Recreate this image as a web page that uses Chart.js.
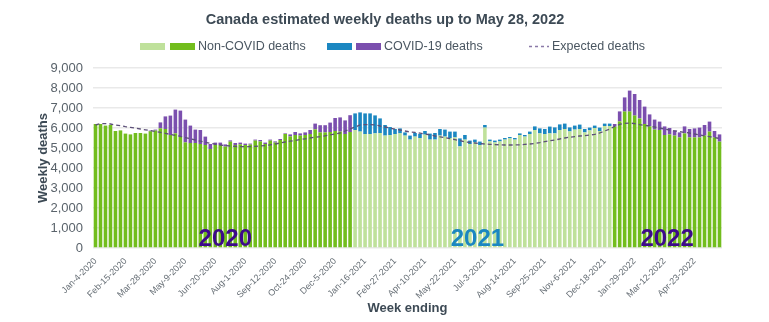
<!DOCTYPE html>
<html>
<head>
<meta charset="utf-8">
<script src="https://cdn.jsdelivr.net/npm/chart.js@4.4.0/dist/chart.umd.min.js"></script>
<style>
  html, body { margin: 0; padding: 0; background: #fff; }
  #wrap { width: 769px; height: 322px; }
</style>
</head>
<body>
<div id="wrap"><canvas id="chart"></canvas></div>
<script>
// week ending dates
const weeks = [
  "Jan-4-2020","Jan-11-2020","Jan-18-2020","Jan-25-2020","Feb-1-2020","Feb-8-2020","Feb-15-2020","Feb-22-2020","Feb-29-2020",
  "Mar-7-2020","Mar-14-2020","Mar-21-2020","Mar-28-2020","Apr-4-2020","Apr-11-2020","Apr-18-2020","Apr-25-2020",
  "May-2-2020","May-9-2020","May-16-2020","May-23-2020","May-30-2020","Jun-6-2020","Jun-13-2020","Jun-20-2020","Jun-27-2020",
  "Jul-4-2020","Jul-11-2020","Jul-18-2020","Jul-25-2020","Aug-1-2020","Aug-8-2020","Aug-15-2020","Aug-22-2020","Aug-29-2020",
  "Sep-5-2020","Sep-12-2020","Sep-19-2020","Sep-26-2020","Oct-3-2020","Oct-10-2020","Oct-17-2020","Oct-24-2020","Oct-31-2020",
  "Nov-7-2020","Nov-14-2020","Nov-21-2020","Nov-28-2020","Dec-5-2020","Dec-12-2020","Dec-19-2020","Dec-26-2020",
  "Jan-2-2021","Jan-9-2021","Jan-16-2021","Jan-23-2021","Jan-30-2021","Feb-6-2021","Feb-13-2021","Feb-20-2021","Feb-27-2021",
  "Mar-6-2021","Mar-13-2021","Mar-20-2021","Mar-27-2021","Apr-3-2021","Apr-10-2021","Apr-17-2021","Apr-24-2021",
  "May-1-2021","May-8-2021","May-15-2021","May-22-2021","May-29-2021","Jun-5-2021","Jun-12-2021","Jun-19-2021","Jun-26-2021",
  "Jul-3-2021","Jul-10-2021","Jul-17-2021","Jul-24-2021","Jul-31-2021","Aug-7-2021","Aug-14-2021","Aug-21-2021","Aug-28-2021",
  "Sep-4-2021","Sep-11-2021","Sep-18-2021","Sep-25-2021","Oct-2-2021","Oct-9-2021","Oct-16-2021","Oct-23-2021","Oct-30-2021",
  "Nov-6-2021","Nov-13-2021","Nov-20-2021","Nov-27-2021","Dec-4-2021","Dec-11-2021","Dec-18-2021","Dec-25-2021",
  "Jan-1-2022","Jan-8-2022","Jan-15-2022","Jan-22-2022","Jan-29-2022","Feb-5-2022","Feb-12-2022","Feb-19-2022","Feb-26-2022",
  "Mar-5-2022","Mar-12-2022","Mar-19-2022","Mar-26-2022","Apr-2-2022","Apr-9-2022","Apr-16-2022","Apr-23-2022","Apr-30-2022",
  "May-7-2022","May-14-2022","May-21-2022","May-28-2022"
];

const nonCovid = [
  6200,6200,6120,6150,5850,5880,5720,5680,5750,5750,5720,5840,5870,5980,5950,5650,5730,5550,5280,5250,5250,5200,5150,4950,5150,5150,
  5070,5320,5150,5180,5150,5170,5370,5330,5200,5370,5270,5400,5700,5580,5650,5620,5650,5700,5930,5780,5780,5800,5850,5820,5700,5800,
  5900,5820,5700,5700,5730,5750,5620,5650,5700,5730,5620,5420,5570,5500,5670,5420,5420,5620,5570,5500,5530,5080,5420,5200,5280,5150,
  6020,5330,5280,5330,5420,5480,5420,5650,5570,5700,5900,5730,5700,5730,5730,5900,5950,5830,5920,5950,5780,5880,6000,5850,6100,6100,
  6070,6330,6820,6820,6620,6480,6200,6080,5920,5900,5650,5680,5620,5530,5730,5530,5530,5530,5620,5820,5530,5320
];

const covid = [
  0,0,0,0,0,0,0,0,0,0,0,30,50,300,630,970,1190,1320,1140,870,670,700,420,250,120,120,
  110,60,100,90,70,50,50,70,70,50,60,50,30,100,150,110,130,200,290,360,360,470,650,710,680,840,
  830,960,1030,1030,900,730,530,400,250,250,160,200,180,200,180,300,330,330,350,320,290,400,230,170,140,170,
  130,90,90,90,80,70,80,80,80,120,180,250,250,340,300,280,270,200,200,220,170,140,120,170,120,120,
  130,500,710,1050,1080,920,870,600,500,420,430,320,250,250,350,420,450,490,530,500,320,360
];

const expected = [
  6150,6220,6220,6200,6150,6120,6070,6030,5990,5950,5910,5870,5830,5780,5730,5680,5630,5580,5520,5460,5400,5340,5280,5230,5190,5150,
  5120,5100,5080,5070,5070,5070,5080,5100,5120,5160,5200,5250,5300,5340,5380,5420,5460,5500,5540,5570,5610,5650,5700,5750,5850,5950,
  6050,6150,6170,6170,6150,6100,6050,6000,5940,5900,5850,5800,5780,5740,5700,5660,5600,5560,5520,5470,5420,5370,5300,5280,5250,5220,
  5200,5180,5170,5160,5150,5150,5150,5160,5180,5200,5230,5270,5320,5360,5400,5450,5500,5540,5570,5600,5620,5650,5680,5750,5850,5950,
  6080,6180,6230,6250,6220,6170,6130,6100,6050,6000,5950,5900,5860,5820,5780,5750,5700,5650,5610,5570,5520,5480
];

const yTicks = [0, 1000, 2000, 3000, 4000, 5000, 6000, 7000, 8000, 9000];
const yearNames = ["2020", "2021", "2022"];

const DARK_GREEN = "#72bd1d";
const LIGHT_GREEN = "#bfe19b";
const BLUE = "#1b87c1";
const PURPLE = "#7b4fae";
const FONT = '"Liberation Sans", Arial, sans-serif';

function yearOf(i) { return weeks[i].slice(-4); }

const overlay = {
  id: "overlay",
  afterDraw(chart) {
    const ctx = chart.ctx;
    const x = chart.scales.x;
    ctx.save();
    // title
    ctx.fillStyle = "#3d4a55";
    ctx.font = "bold 14.5px " + FONT;
    ctx.textAlign = "center";
    ctx.textBaseline = "middle";
    ctx.fillText("Canada estimated weekly deaths up to May 28, 2022", 385, 20);

    // legend
    ctx.font = "12.5px " + FONT;
    ctx.textAlign = "left";
    ctx.fillStyle = LIGHT_GREEN; ctx.fillRect(140, 43, 25, 7);
    ctx.fillStyle = DARK_GREEN; ctx.fillRect(170, 43, 25, 7);
    ctx.fillStyle = BLUE; ctx.fillRect(327, 43, 25, 7);
    ctx.fillStyle = PURPLE; ctx.fillRect(356, 43, 25, 7);
    ctx.fillStyle = "#4a5661";
    ctx.fillText("Non-COVID deaths", 198, 47);
    ctx.fillText("COVID-19 deaths", 384, 47);
    ctx.fillText("Expected deaths", 552, 47);
    ctx.strokeStyle = "#8a7aa8";
    ctx.lineWidth = 1.5;
    ctx.setLineDash([3, 3]);
    ctx.beginPath(); ctx.moveTo(529, 46.5); ctx.lineTo(549, 46.5); ctx.stroke();
    ctx.setLineDash([]);

    // year labels inside plot
    ctx.font = "bold 24px " + FONT;
    ctx.textAlign = "center";
    ctx.textBaseline = "alphabetic";
    const at = [26, 76.5, 114.5];
    const cols = ["#3d0a8a", "#1b87c1", "#3d0a8a"];
    yearNames.forEach((name, k) => {
      const i0 = Math.floor(at[k]);
      const px = x.getPixelForValue(i0) + (at[k] - i0) * (x.getPixelForValue(i0 + 1) - x.getPixelForValue(i0));
      ctx.fillStyle = cols[k];
      ctx.fillText(name, px, chart.chartArea.bottom - 2);
    });
    ctx.restore();
  }
};

new Chart(document.getElementById("chart"), {
  data: {
    labels: weeks,
    datasets: [
      {
        type: "line",
        label: "Expected deaths",
        data: expected,
        stack: "expected",
        borderColor: "#5c4f78",
        borderWidth: 1.3,
        borderDash: [4, 3],
        pointRadius: 0,
        fill: false,
        tension: 0,
        order: 0
      },
      {
        type: "bar",
        label: "Non-COVID deaths",
        data: nonCovid,
        stack: "deaths",
        backgroundColor: (c) => yearOf(c.dataIndex) === "2021" ? LIGHT_GREEN : DARK_GREEN,
        barPercentage: 0.72,
        categoryPercentage: 1,
        order: 1
      },
      {
        type: "bar",
        label: "COVID-19 deaths",
        data: covid,
        stack: "deaths",
        backgroundColor: (c) => yearOf(c.dataIndex) === "2021" ? BLUE : PURPLE,
        barPercentage: 0.72,
        categoryPercentage: 1,
        order: 1
      }
    ]
  },
  options: {
    responsive: true,
    maintainAspectRatio: false,
    animation: false,
    layout: { padding: { top: 68, right: 47, left: 0, bottom: 0 } },
    plugins: {
      legend: { display: false },
      title: { display: false },
      tooltip: { enabled: false }
    },
    scales: {
      x: {
        stacked: true,
        grid: { display: false },
        border: { display: false },
        ticks: {
          autoSkip: false,
          maxRotation: 45,
          minRotation: 45,
          padding: 0,
          color: "#666e75",
          font: { family: FONT, size: 9 },
          callback: function (v, i) { return i % 6 === 0 ? weeks[i] : ""; }
        },
        title: {
          display: true,
          text: "Week ending",
          color: "#3d4a55",
          font: { family: FONT, size: 13, weight: "bold" },
          padding: { top: 0, bottom: 6 }
        },
        afterFit: (s) => { s.height = 74; }
      },
      y: {
        stacked: true,
        min: 0,
        max: 9000,
        afterBuildTicks: (s) => { s.ticks = yTicks.map(v => ({ value: v })); },
        grid: { color: "#e9e9e9", lineWidth: 1.5, drawTicks: false },
        border: { display: false },
        ticks: {
          padding: 10,
          color: "#5a636b",
          font: { family: FONT, size: 13 },
          callback: (v) => v.toLocaleString("en-US")
        },
        title: {
          display: true,
          text: "Weekly deaths",
          color: "#3d4a55",
          font: { family: FONT, size: 13, weight: "bold" },
          padding: { top: 36, bottom: 0 }
        },
        afterFit: (s) => { s.width = 93; }
      }
    }
  },
  plugins: [overlay]
});
</script>
</body>
</html>
